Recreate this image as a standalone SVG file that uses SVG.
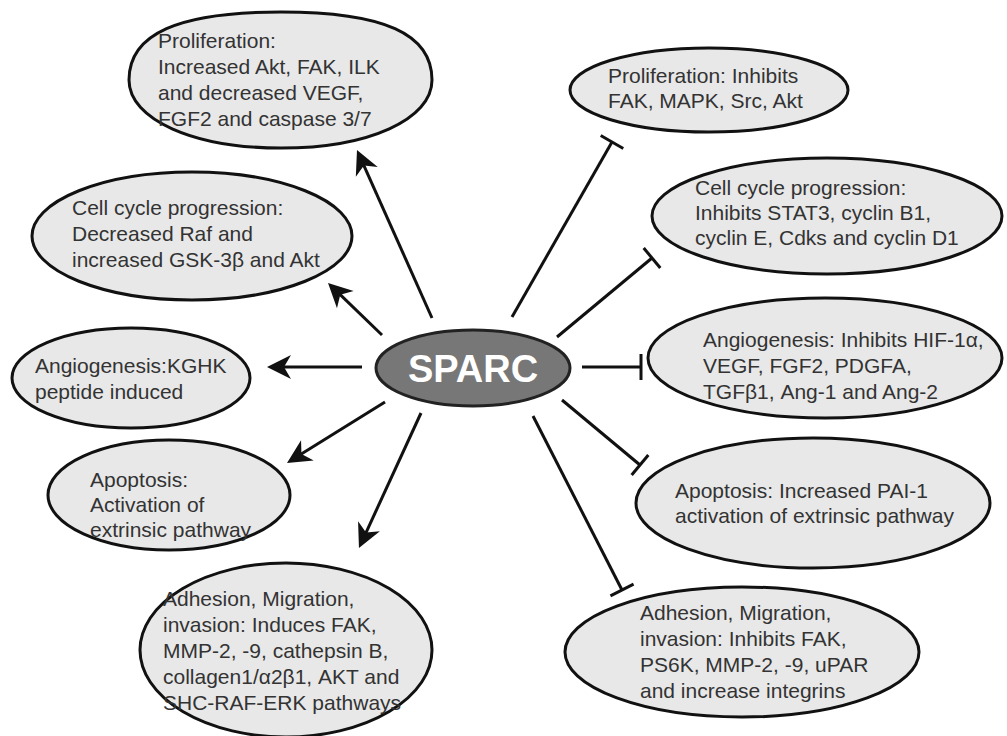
<svg xmlns="http://www.w3.org/2000/svg" width="1007" height="736" viewBox="0 0 1007 736">
<defs>
<style>
.node{fill:#e8e8e8;stroke:#111;stroke-width:3}
.lbl{font-family:"Liberation Sans",Arial,sans-serif;font-size:21px;fill:#333}
.con{stroke:#111;stroke-width:3;fill:none}
.act{marker-end:url(#arrow)}
.inh{marker-end:url(#bar)}
</style>
<marker id="arrow" markerUnits="userSpaceOnUse" markerWidth="30" markerHeight="30" viewBox="-2 -14 30 28" refX="10" refY="0" orient="auto">
<path d="M24,0 L0,-12 L7,0 L0,12 Z" fill="#111"/>
</marker>
<marker id="bar" markerUnits="userSpaceOnUse" markerWidth="10" markerHeight="30" viewBox="-5 -15 10 30" refX="0" refY="0" orient="auto">
<path d="M0,-13 L0,13" stroke="#111" stroke-width="3"/>
</marker>
</defs>
<rect width="1007" height="736" fill="#fff"/>
<g id="connectors">
<line class="con act" x1="432" y1="318" x2="362.7" y2="162.8"/>
<line class="con act" x1="382" y1="335" x2="338.1" y2="292.7"/>
<line class="con act" x1="362" y1="367" x2="281" y2="367"/>
<line class="con act" x1="385" y1="402" x2="298.9" y2="455.6"/>
<line class="con act" x1="421" y1="413" x2="364.8" y2="535.3"/>
<line class="con inh" x1="512" y1="317" x2="612" y2="142"/>
<line class="con inh" x1="557" y1="337" x2="652" y2="258"/>
<line class="con inh" x1="582" y1="367" x2="641" y2="367"/>
<line class="con inh" x1="562" y1="400" x2="640" y2="465"/>
<line class="con inh" x1="533" y1="416" x2="622" y2="590"/>
</g>
<g id="sparc">
<ellipse cx="473" cy="368" rx="97" ry="38" fill="#777" stroke="#222" stroke-width="3"/>
<text x="473" y="382" text-anchor="middle" font-family="'Liberation Sans',Arial,sans-serif" font-weight="bold" font-size="38" fill="#fff">SPARC</text>
</g>
<g id="prolif-left">
<path class="node" d="M129,80 C129,33.8 178.3,12 281,12 C383.7,12 432,33.8 432,80 C432,119.4 368.6,148 281,148 C193.4,148 129,119.4 129,80 Z"/>
<text class="lbl"><tspan x="158" y="48">Proliferation:</tspan><tspan x="158" y="74">Increased Akt, FAK, ILK</tspan><tspan x="158" y="100">and decreased VEGF,</tspan><tspan x="158" y="126">FGF2 and caspase 3/7</tspan></text>
</g>
<g id="cellcycle-left">
<ellipse class="node" cx="192" cy="236" rx="160" ry="64"/>
<text class="lbl"><tspan x="72" y="215">Cell cycle progression:</tspan><tspan x="72" y="241">Decreased Raf and</tspan><tspan x="72" y="267">increased GSK-3β and Akt</tspan></text>
</g>
<g id="angio-left">
<ellipse class="node" cx="131" cy="378" rx="119" ry="50"/>
<text class="lbl"><tspan x="35" y="373">Angiogenesis:KGHK</tspan><tspan x="35" y="399">peptide induced</tspan></text>
</g>
<g id="apop-left">
<ellipse class="node" cx="169" cy="495" rx="121" ry="55"/>
<text class="lbl"><tspan x="90" y="487">Apoptosis:</tspan><tspan x="90" y="512">Activation of</tspan><tspan x="90" y="537">extrinsic pathway</tspan></text>
</g>
<g id="adhesion-left">
<ellipse class="node" cx="286" cy="650" rx="146" ry="87"/>
<text class="lbl"><tspan x="163" y="606">Adhesion, Migration,</tspan><tspan x="163" y="632">invasion: Induces FAK,</tspan><tspan x="163" y="658">MMP-2, -9, cathepsin B,</tspan><tspan x="163" y="684">collagen1/α2β1, AKT and</tspan><tspan x="163" y="710">SHC-RAF-ERK pathways</tspan></text>
</g>
<g id="prolif-right">
<ellipse class="node" cx="709" cy="90" rx="139" ry="42"/>
<text class="lbl"><tspan x="608" y="83">Proliferation: Inhibits</tspan><tspan x="608" y="108">FAK, MAPK, Src, Akt</tspan></text>
</g>
<g id="cellcycle-right">
<ellipse class="node" cx="827" cy="216" rx="175" ry="58"/>
<text class="lbl"><tspan x="695" y="195">Cell cycle progression:</tspan><tspan x="695" y="220">Inhibits STAT3, cyclin B1,</tspan><tspan x="695" y="245">cyclin E, Cdks and cyclin D1</tspan></text>
</g>
<g id="angio-right">
<ellipse class="node" cx="825" cy="358" rx="177" ry="60"/>
<text class="lbl"><tspan x="703" y="347">Angiogenesis: Inhibits HIF-1α,</tspan><tspan x="703" y="373">VEGF, FGF2, PDGFA,</tspan><tspan x="703" y="399">TGFβ1, Ang-1 and Ang-2</tspan></text>
</g>
<g id="apop-right">
<ellipse class="node" cx="813" cy="503" rx="177" ry="65"/>
<text class="lbl"><tspan x="675" y="498">Apoptosis: Increased PAI-1</tspan><tspan x="675" y="523">activation of extrinsic pathway</tspan></text>
</g>
<g id="adhesion-right">
<ellipse class="node" cx="742" cy="652" rx="177" ry="65"/>
<text class="lbl"><tspan x="640" y="620">Adhesion, Migration,</tspan><tspan x="640" y="646">invasion: Inhibits FAK,</tspan><tspan x="640" y="672">PS6K, MMP-2, -9, uPAR</tspan><tspan x="640" y="698">and increase integrins</tspan></text>
</g>
</svg>
